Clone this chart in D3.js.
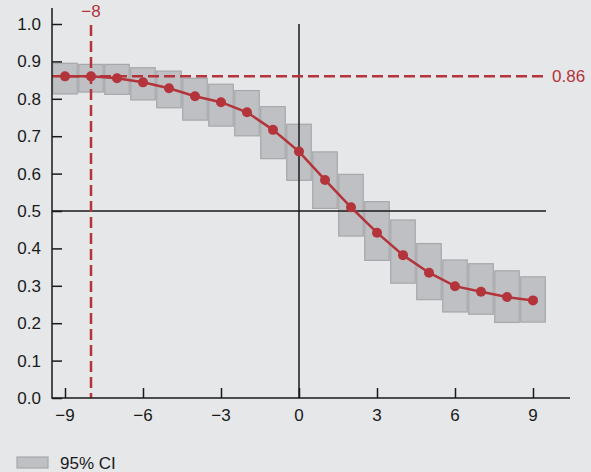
<!DOCTYPE html>
<html>
<head>
<meta charset="utf-8">
<script src="https://cdn.jsdelivr.net/npm/d3@7"></script>
<style>
  body { margin: 0; background: #e6e7e9; }
  svg { display: block; font-family: "Liberation Sans", Arial, sans-serif; }
</style>
</head>
<body>
<svg id="chart" width="591" height="472"></svg>
<script>
// lag values and estimated probabilities with 95% CI
var lags = [-9, -8, -7, -6, -5, -4, -3, -2, -1, 0, 1, 2, 3, 4, 5, 6, 7, 8, 9];
var probs = [0.86, 0.86, 0.855, 0.844, 0.828, 0.807, 0.791, 0.764, 0.717, 0.659, 0.583, 0.510, 0.442, 0.382, 0.335, 0.299, 0.284, 0.270, 0.261];
var ciLow = [0.813, 0.818, 0.812, 0.797, 0.776, 0.743, 0.727, 0.701, 0.640, 0.582, 0.507, 0.433, 0.368, 0.307, 0.263, 0.230, 0.224, 0.202, 0.203];
var ciHigh = [0.895, 0.892, 0.892, 0.883, 0.874, 0.855, 0.839, 0.822, 0.779, 0.732, 0.658, 0.598, 0.525, 0.476, 0.413, 0.369, 0.359, 0.340, 0.324];
var xTicks = [-9, -6, -3, 0, 3, 6, 9];
var yTicks = [0, 0.1, 0.2, 0.3, 0.4, 0.5, 0.6, 0.7, 0.8, 0.9, 1.0];
var refLag = -8;
var refProb = 0.86;

var red = "#b3343a";
var fontSize = "17px";

var svg = d3.select("#chart");

var x = d3.scaleLinear().domain([-9, 9]).range([65, 533]);
var y = d3.scaleLinear().domain([0, 1]).range([398, 24]);

var data = lags.map(function(d, i) {
    return { lag: d, p: probs[i], lo: ciLow[i], hi: ciHigh[i] };
});

// CI boxes
var boxW = (x(1) - x(0)) - 1.5;
svg.append("g").selectAll("rect")
    .data(data)
    .enter()
    .append("rect")
    .attr("x", function(d) { return x(d.lag) - boxW / 2; })
    .attr("y", function(d) { return y(d.hi); })
    .attr("width", boxW)
    .attr("height", function(d) { return y(d.lo) - y(d.hi); })
    .attr("fill", "#bfc0c3")
    .attr("stroke", "#a6a7a9")
    .attr("stroke-width", 1.2);

// reference lines
svg.append("line")
    .attr("x1", x(0)).attr("x2", x(0))
    .attr("y1", y(1)).attr("y2", y(0))
    .attr("stroke", "#1a1a1a").attr("stroke-width", 1.5);
svg.append("line")
    .attr("x1", 52).attr("x2", 546)
    .attr("y1", y(0.5)).attr("y2", y(0.5))
    .attr("stroke", "#1a1a1a").attr("stroke-width", 1.5);

// dashed markers
svg.append("line")
    .attr("x1", 52).attr("x2", 543)
    .attr("y1", y(refProb)).attr("y2", y(refProb))
    .attr("stroke", red).attr("stroke-width", 2.5)
    .attr("stroke-dasharray", "11,5");
svg.append("line")
    .attr("x1", x(refLag)).attr("x2", x(refLag))
    .attr("y1", 25).attr("y2", y(0))
    .attr("stroke", red).attr("stroke-width", 2.5)
    .attr("stroke-dasharray", "11,5");
svg.append("text")
    .attr("x", 552).attr("y", y(refProb) + 6)
    .attr("fill", red).style("font-size", fontSize)
    .text(refProb.toFixed(2));
svg.append("text")
    .attr("x", x(refLag)).attr("y", 17)
    .attr("text-anchor", "middle")
    .attr("fill", red).style("font-size", fontSize)
    .text("\u2212" + Math.abs(refLag));

// line + points
var line = d3.line().x(function(d) { return x(d.lag); }).y(function(d) { return y(d.p); });
svg.append("path")
    .datum(data)
    .attr("d", line)
    .attr("fill", "none")
    .attr("stroke", red)
    .attr("stroke-width", 2.5);
svg.append("g").selectAll("circle")
    .data(data)
    .enter()
    .append("circle")
    .attr("cx", function(d) { return x(d.lag); })
    .attr("cy", function(d) { return y(d.p); })
    .attr("r", 5)
    .attr("fill", red);

// axes
var fmtMinus = function(v) { return v < 0 ? "\u2212" + Math.abs(v) : String(v); };

var xAxis = svg.append("g")
    .attr("transform", "translate(0," + y(0) + ")")
    .call(d3.axisTop(x).tickValues(xTicks).tickSize(10).tickFormat(""));
xAxis.select(".domain").remove();
xAxis.selectAll("line").attr("stroke", "#1a1a1a").attr("stroke-width", 1.5);
svg.append("line")
    .attr("x1", 52).attr("x2", 570)
    .attr("y1", y(0)).attr("y2", y(0))
    .attr("stroke", "#1a1a1a").attr("stroke-width", 1.5);
svg.append("g").selectAll("text")
    .data(xTicks)
    .enter()
    .append("text")
    .attr("x", function(d) { return x(d); })
    .attr("y", 421)
    .attr("text-anchor", "middle")
    .attr("fill", "#1a1a1a")
    .style("font-size", fontSize)
    .text(fmtMinus);

var yAxis = svg.append("g")
    .attr("transform", "translate(52,0)")
    .call(d3.axisRight(y).tickValues(yTicks).tickSize(10).tickFormat(""));
yAxis.select(".domain").remove();
yAxis.selectAll("line").attr("stroke", "#1a1a1a").attr("stroke-width", 1.5);
svg.append("line")
    .attr("x1", 52).attr("x2", 52)
    .attr("y1", 8).attr("y2", y(0) + 0.75)
    .attr("stroke", "#1a1a1a").attr("stroke-width", 1.5);
svg.append("g").selectAll("text")
    .data(yTicks)
    .enter()
    .append("text")
    .attr("x", 41)
    .attr("y", function(d) { return y(d) + 6; })
    .attr("text-anchor", "end")
    .attr("fill", "#1a1a1a")
    .style("font-size", fontSize)
    .text(function(d) { return d.toFixed(1); });

// legend
svg.append("rect")
    .attr("x", 17).attr("y", 457)
    .attr("width", 31).attr("height", 11)
    .attr("fill", "#bfc0c3")
    .attr("stroke", "#a6a7a9")
    .attr("stroke-width", 1.2);
svg.append("text")
    .attr("x", 60).attr("y", 469)
    .attr("fill", "#1a1a1a")
    .style("font-size", fontSize)
    .text("95% CI");
</script>
</body>
</html>
